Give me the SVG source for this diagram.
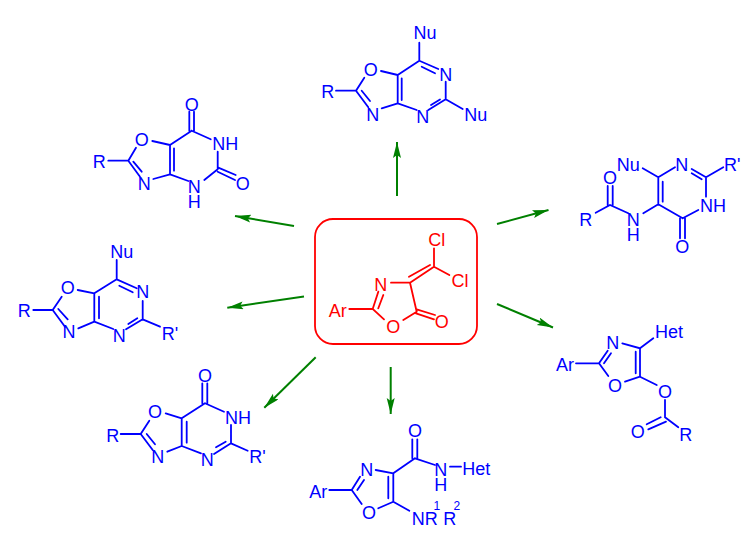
<svg xmlns="http://www.w3.org/2000/svg" width="756" height="549" viewBox="0 0 756 549">
<style>
text{font-family:"Liberation Sans",Arial,sans-serif;font-size:18px}
.m{text-anchor:middle}
.s{font-size:12px}
.b text{fill:#0000ff}
.r text{fill:#ff0000}
.b path{fill:none;stroke:#0000ff;stroke-width:1.8;stroke-linecap:round}
.r path{fill:none;stroke:#ff0000;stroke-width:1.8;stroke-linecap:round}
#connectors line{stroke:#008000;stroke-width:2;marker-end:url(#ah)}
</style>
<defs><marker id="ah" markerUnits="userSpaceOnUse" markerWidth="18" markerHeight="10" refX="16" refY="4" orient="auto"><path d="M0 0L16 4L0 8L3 4Z" fill="#008000"/></marker></defs>
<rect width="756" height="549" fill="#fff"/>
<g id="connectors">
<line x1="397" y1="196" x2="397" y2="142"/>
<line x1="294" y1="226" x2="235" y2="216"/>
<line x1="497" y1="224" x2="548.500" y2="210"/>
<line x1="304" y1="296.500" x2="227.300" y2="307.700"/>
<line x1="497" y1="304" x2="553" y2="327.500"/>
<line x1="315.700" y1="357.300" x2="264.300" y2="407.700"/>
<line x1="390.700" y1="367" x2="390.700" y2="414"/>
</g>
<g id="center" class="r">
<rect x="315" y="219" width="162" height="125" rx="18" fill="none" stroke="#ff0000" stroke-width="1.8"/>
<path d="M434 248.300V266.700L449.300 275M434 266.700L410 282.700M430 265L409 276.700M391 282.700H410L416.700 311.700M416.700 309.300L435 315M416 313.300L434 319.300M416.700 311.700L403.300 320M384 319.300L372.700 309L378.300 291.700M378.300 308.300L383.300 295M349.300 309H372.700"/>
<text class="m" x="436.700" y="245.500">Cl</text><text class="m" x="460" y="286.500">Cl</text><text class="m" x="380.700" y="290.500">N</text><text class="m" x="441.700" y="328">O</text><text class="m" x="393.300" y="333">O</text><text class="m" x="337.700" y="316.500">Ar</text>
</g>
<g id="top" class="b">
<path d="M419.300 42.700V60.700L438.300 69M421.700 66.700L435 73.300M445.700 81.700V99.300L462.700 109M445.700 99.300L428.300 110M440 99.500L431 105M416.700 110L397.700 103.300V75L419.300 60.700M401.700 78.300V100M381 71L397.700 75M381.700 108.300L397.700 103.300M364.300 77.700L356 90.700L368.300 107.300M361.700 90.700L370 101M336 90.700H356"/>
<text class="m" x="425" y="38.500">Nu</text><text class="m" x="445.700" y="80.500">N</text><text class="m" x="475.700" y="120.500">Nu</text><text class="m" x="422.700" y="122.500">N</text><text class="m" x="370.700" y="75.500">O</text><text class="m" x="372.700" y="120.500">N</text><text class="m" x="327.700" y="98">R</text>
</g>
<g id="upper-left" class="b">
<path d="M189.300 111.700V130.700M194 111.700V130.700M191.700 130.700L210.700 139.300M217.700 151.700V169.300M217.700 167.300L235.700 175M217.700 171.700L235 180M217.700 169.300L204.300 180M188.300 181L170 174.300V145L191.700 130.700M174 148.300V170.700M152.300 141L170 145M153.300 179L170 174.300M136 147.700L128.300 160.700L140 176.700M133.300 161.700L141.700 171.700M108.300 160.700H128.300"/>
<text class="m" x="191.700" y="110.500">O</text><text x="212.300" y="149.800">NH</text><text class="m" x="242.700" y="189.800">O</text><text class="m" x="194.300" y="192.500">N<tspan x="194.300" dy="15">H</tspan></text><text class="m" x="141.700" y="145.500">O</text><text class="m" x="144.300" y="189.800">N</text><text class="m" x="99.300" y="168">R</text>
</g>
<g id="upper-right" class="b">
<path d="M642.700 168.300L658.300 177.300L675 167.300M691.700 169L706 177.300L723.300 167.300M691.700 173.300L701.700 179.300M706 177.300V196.700M698.300 210L682.700 218.300M680 218.300V238.300M685 218.300V238.300M682.700 218.300L658.300 204.300V177.300M662.700 181.700V201.700M658.300 204.300L643.300 213.300M628.300 213.300L610 205L595.700 212.700M607.700 186V205M612.700 186V205"/>
<text class="m" x="628.300" y="170.500">Nu</text><text class="m" x="681.700" y="170.500">N</text><text x="724" y="170.500">R'</text><text x="700" y="212.200">NH</text><text class="m" x="682.300" y="253.200">O</text><text class="m" x="633.300" y="225.800">N<tspan x="633.300" dy="15">H</tspan></text><text class="m" x="610" y="184.200">O</text><text class="m" x="585.700" y="225.500">R</text>
</g>
<g id="left" class="b">
<path d="M116.700 260V279.300L136.700 288.300M119.300 285.700L132.700 292.300M142.700 301V319.300L160 326.700M142.700 319.300L126 329.300M137.300 318.300L128.300 324M113.300 329L94.300 321.700V293.300L116.700 279.300M99 296.700V318.300M77.700 290L94.300 293.300M78.300 328.300L94.300 321.700M61.700 296.700L52.700 310L65 326.700M58.300 309L67.700 319.300M33.300 310H52.700"/>
<text class="m" x="121.700" y="258.200">Nu</text><text class="m" x="142.700" y="298.200">N</text><text x="161.700" y="339.800">R'</text><text class="m" x="119.300" y="341.500">N</text><text class="m" x="67.700" y="294.200">O</text><text class="m" x="69" y="338.200">N</text><text class="m" x="24.300" y="317.200">R</text>
</g>
<g id="right" class="b">
<path d="M640 348.300L653.300 338.300M622.300 343.300L640 348.300V376.700L625 381.700M635.700 351.700V373.300M608.300 376L599 363.300L607.700 350.700M604 363.300L611 353.300M576 363.300H599M640 376.700L656.700 385M665 400V417.300L678.300 427.300M660.700 417.300L646.700 424.300M666 421.700L648.300 429.300"/>
<text x="655" y="337.500">Het</text><text class="m" x="612.700" y="348.800">N</text><text class="m" x="615" y="392.200">O</text><text class="m" x="565" y="370.800">Ar</text><text class="m" x="665" y="398.200">O</text><text class="m" x="685.700" y="440.800">R</text><text class="m" x="637.700" y="438.200">O</text>
</g>
<g id="lower-left" class="b">
<path d="M202.300 383.300V403.300M207.300 383.300V403.300M205 403.300L224 411.700M231 425V443.300L247.700 450.700M231 443.300L214 454M225.700 441.700L216 447.300M201 453.300L181.700 446V418.300L205 403.300M186.700 421.700V442.700M165.700 413.300L181.700 418.300M167.300 451.700L181.700 446M149.300 420.700L140.700 434L152.700 450M146.700 434L155 444.300M120.700 434H140.700"/>
<text class="m" x="205" y="382.200">O</text><text x="225" y="423.800">NH</text><text x="249.300" y="463.200">R'</text><text class="m" x="207.300" y="465.500">N</text><text class="m" x="155" y="418.200">O</text><text class="m" x="157.700" y="462.500">N</text><text class="m" x="112.700" y="441.500">R</text>
</g>
<g id="bottom" class="b">
<path d="M412.300 439.300V458.300M417.300 439.300V458.300M415 458.300L435 465M450 466.700H461M415 458.300L393.300 473.300V501.700L409.300 510.700M375.700 470L393.300 473.300M388.300 476.700V498.300M393.300 501.700L378.300 508.300M361.700 504L351.700 490L360 476.700M357.300 490L364 480M329.300 490H351.700"/>
<text class="m" x="415" y="437.200">O</text><text class="m" x="440.700" y="475.800">N<tspan x="440.700" dy="14.700">H</tspan></text><text x="462.300" y="474.800">Het</text><text class="m" x="366.700" y="475.500">N</text><text class="m" x="369" y="519.200">O</text><text class="m" x="318.300" y="497.500">Ar</text><text x="411.700" y="524.800">NR<tspan class="s" x="433.500" y="509.500">1</tspan><tspan x="443.300" y="524.800">R</tspan><tspan class="s" x="453.500" y="509.500">2</tspan></text>
</g>
</svg>
